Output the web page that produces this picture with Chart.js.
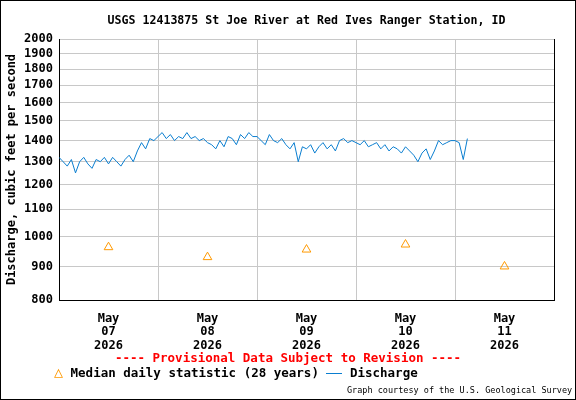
<!DOCTYPE html>
<html>
<head>
<meta charset="utf-8">
<script src="https://cdn.jsdelivr.net/npm/chart.js@4"></script>
<style>
  body { margin: 0; background: #fff; }
  #wrap { position: relative; width: 576px; height: 400px; }
  #frame { position: absolute; left: 0; top: 0; width: 574px; height: 398px; border: 1px solid #000; pointer-events: none; }
  .t { position: absolute; font-family: "DejaVu Sans Mono", monospace; font-weight: bold; white-space: nowrap; }
</style>
</head>
<body>
<div id="wrap">
  <canvas id="myChart" width="576" height="400"></canvas>
  <div id="frame"></div>
  <div class="t" style="left:59px;width:495px;top:13px;text-align:center;font-size:11.6px;">USGS 12413875 St Joe River at Red Ives Ranger Station, ID</div>
  <div class="t" style="left:0;width:576px;top:350px;text-align:center;font-size:12.5px;color:#f00;">---- Provisional Data Subject to Revision ----</div>
  <div class="t" style="left:54px;top:363px;font-size:12.5px;"><span style="color:#f90;font-weight:normal;font-size:15px">&#9651;</span> Median daily statistic (28 years) <span style="display:inline-block;width:16px;border-top:1px solid #0a7ed0;vertical-align:middle"></span> Discharge</div>
  <div class="t" style="left:347px;top:385px;font-size:8.5px;font-weight:normal;">Graph courtesy of the U.S. Geological Survey</div>
</div>
<script>
// hours since May 07 2026 00:00
const dayLabels = [["May", "07", "2026"], ["May", "08", "2026"], ["May", "09", "2026"], ["May", "10", "2026"], ["May", "11", "2026"]];
const yTicks = [800, 900, 1000, 1100, 1200, 1300, 1400, 1500, 1600, 1700, 1800, 1900, 2000];

// hourly discharge, cfs
const discharge = [
  1320, 1300, 1280, 1310, 1250, 1300, 1320, 1290, 1270, 1310, 1300, 1320, 1290, 1320, 1300, 1280, 1310, 1330, 1300, 1350, 1390, 1360, 1410, 1400,
  1420, 1440, 1410, 1430, 1400, 1420, 1410, 1440, 1410, 1420, 1400, 1410, 1390, 1380, 1360, 1400, 1370, 1420, 1410, 1380, 1430, 1410, 1440, 1420,
  1420, 1400, 1380, 1430, 1400, 1390, 1410, 1380, 1360, 1390, 1300, 1370, 1360, 1380, 1340, 1370, 1390, 1360, 1380, 1350, 1400, 1410, 1390, 1400,
  1390, 1380, 1400, 1370, 1380, 1390, 1360, 1380, 1350, 1370, 1360, 1340, 1370, 1350, 1330, 1300, 1340, 1360, 1310, 1350, 1400, 1380, 1390, 1400,
  1400, 1390, 1310, 1410
];
// median daily values at noon of each day
const medianHours = [12, 36, 60, 84, 108];
const medianValues = [963, 930, 955, 972, 900];

const ctx = document.getElementById('myChart').getContext('2d');
const font = { family: "DejaVu Sans Mono", weight: "bold", size: 12 };

new Chart(ctx, {
  type: 'line',
  data: {
    datasets: [{
      label: 'Discharge',
      data: discharge.map((v, i) => ({ x: i, y: v })),
      borderColor: '#0a7ed0',
      borderWidth: 1,
      pointRadius: 0
    }, {
      label: 'Median',
      data: medianHours.map((h, i) => ({ x: h, y: medianValues[i] })),
      showLine: false,
      pointStyle: 'triangle',
      pointRadius: 5,
      borderColor: '#f90',
      borderWidth: 1,
      backgroundColor: 'rgba(0,0,0,0)'
    }]
  },
  options: {
    responsive: false,
    animation: false,
    layout: { padding: { top: 39, right: 22, left: 5, bottom: 0 } },
    plugins: { legend: { display: false }, tooltip: { enabled: false } },
    scales: {
      x: {
        type: 'linear', min: 0, max: 120,
        ticks: { display: false, stepSize: 24 },
        grid: { color: '#c8c8c8', drawTicks: false },
        border: { color: '#000' },
        afterFit: s => { s.height = 0; }
      },
      xl: {
        type: 'linear', position: 'bottom', min: 0, max: 120,
        afterBuildTicks: s => { s.ticks = medianHours.map(v => ({ value: v })); },
        ticks: { font: { ...font, lineHeight: 1.12 }, color: '#000', maxRotation: 0, autoSkip: false, padding: 4,
                 callback: (v, i) => dayLabels[i] },
        grid: { display: false },
        border: { display: false },
        afterFit: s => { s.height = 100; }
      },
      y: {
        type: 'logarithmic', min: 800, max: 2000,
        afterBuildTicks: s => { s.ticks = yTicks.map(v => ({ value: v })); },
        ticks: { font: font, color: '#000', callback: v => String(v), padding: 6 },
        grid: { color: '#c8c8c8', drawTicks: false },
        border: { color: '#000' },
        title: { display: true, text: 'Discharge, cubic feet per second', font: font, color: '#000', padding: 0 },
        afterFit: s => { s.width = 54; }
      },
      yr: {
        type: 'logarithmic', position: 'right', min: 800, max: 2000,
        ticks: { display: false }, grid: { display: false },
        border: { color: '#000' },
        afterFit: s => { s.width = 0; }
      }
    }
  }
});
</script>
</body>
</html>
